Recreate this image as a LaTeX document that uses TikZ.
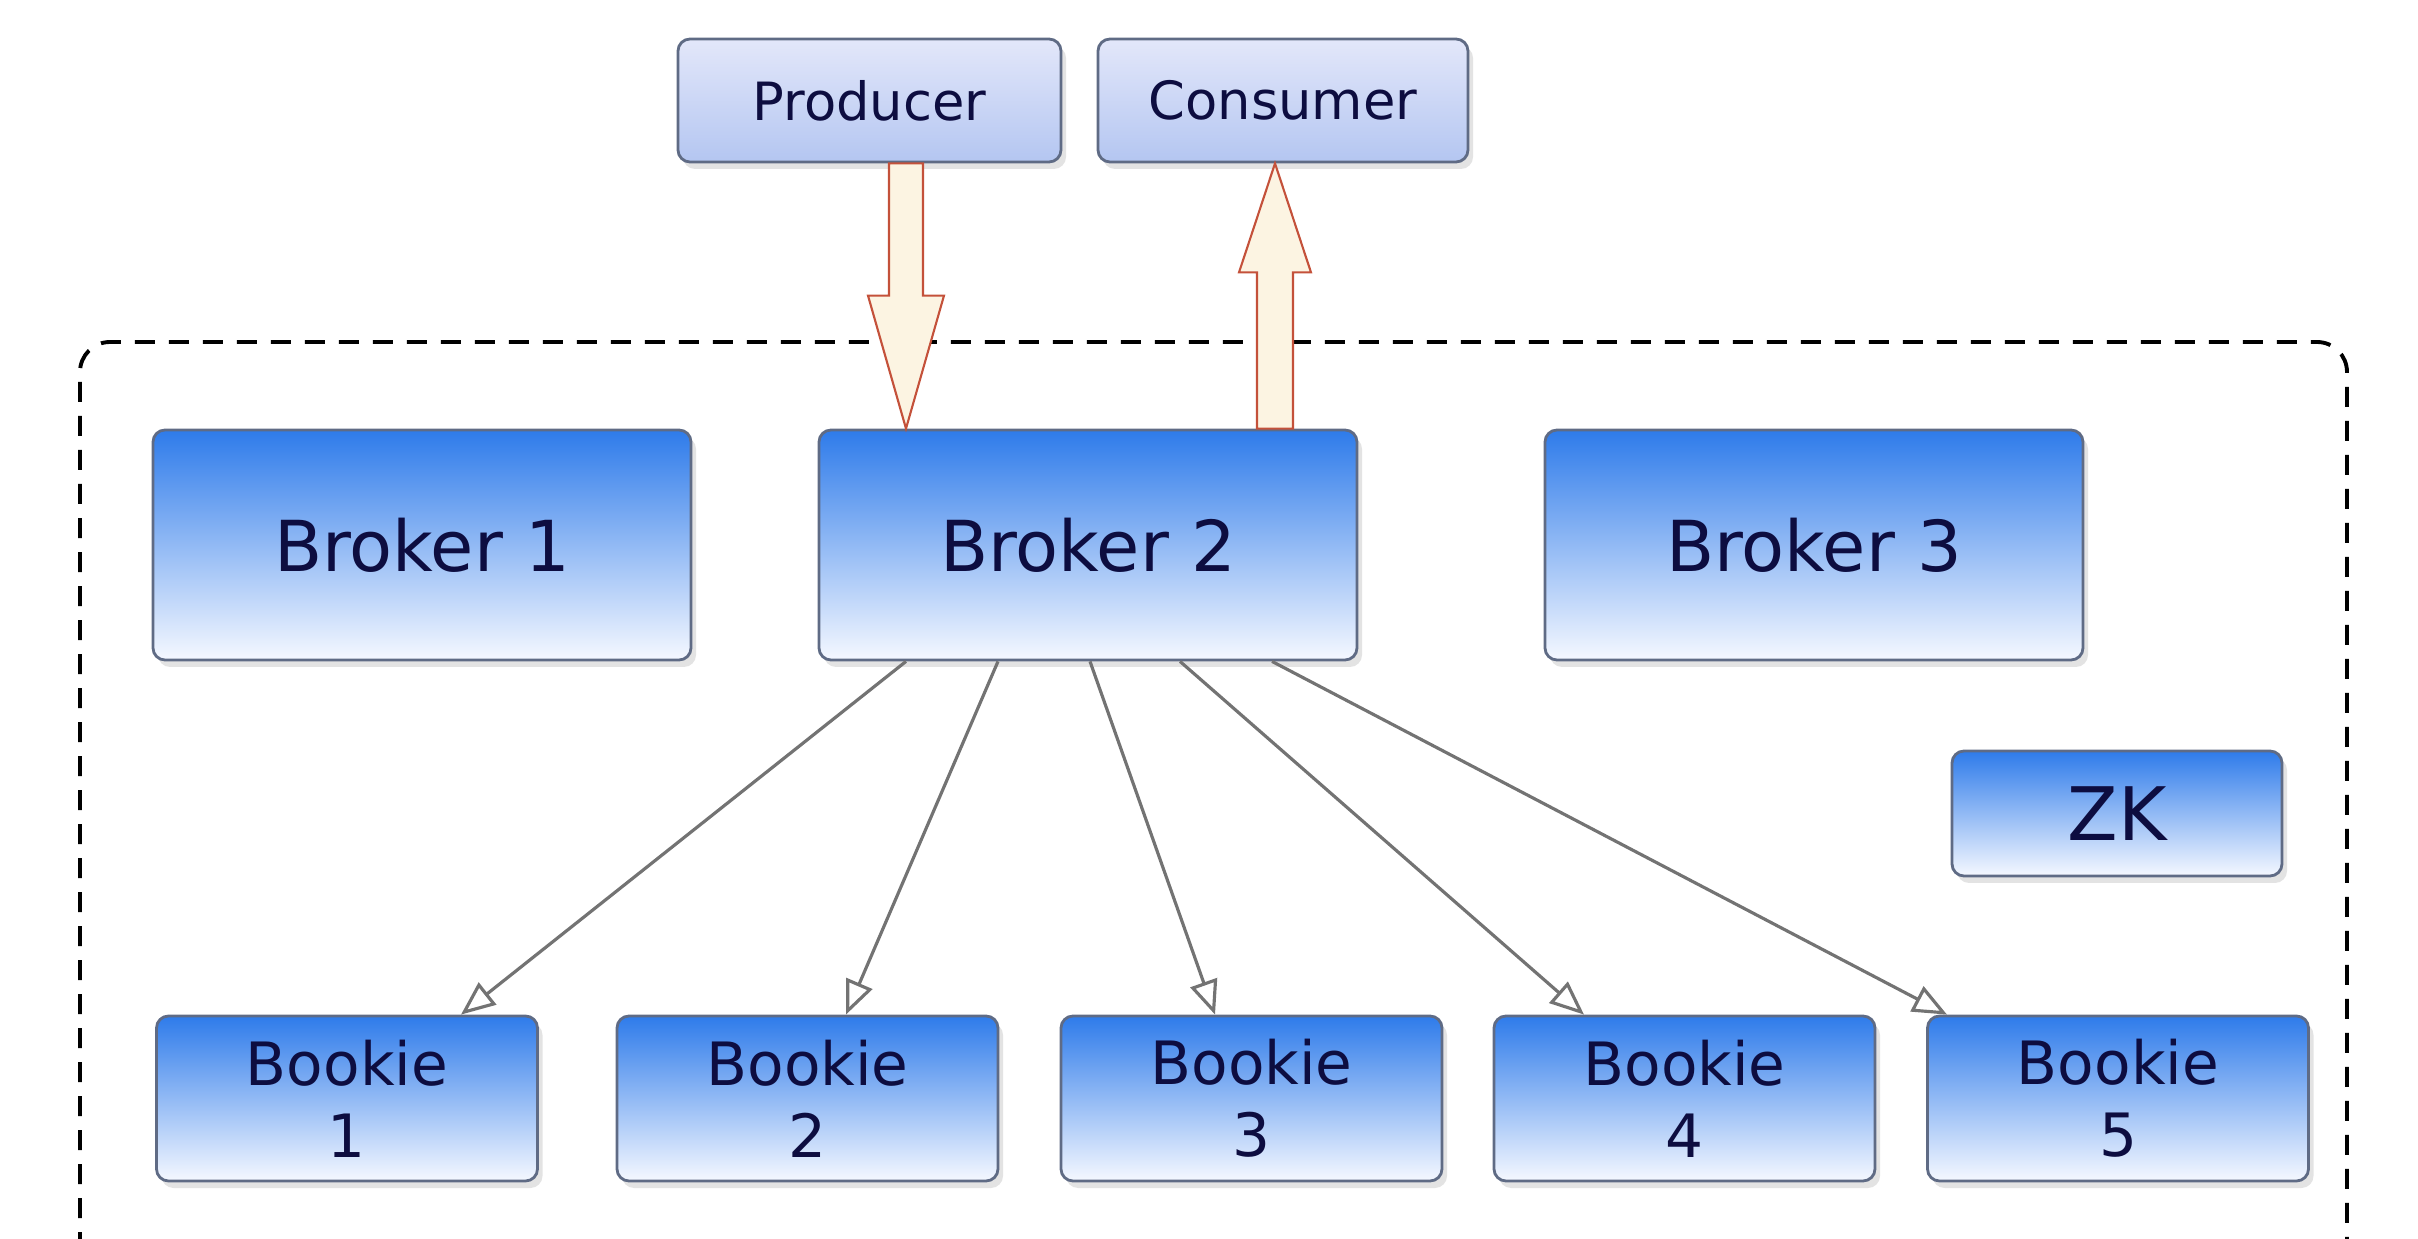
\documentclass[tikz,border=0pt]{standalone}
\usepackage{fontspec}
\setmainfont{DejaVu Sans}
\usetikzlibrary{arrows.meta,shadows}

\definecolor{boxtop}{HTML}{2E7BEA}
\definecolor{boxmid}{HTML}{92B5F3}
\definecolor{boxbot}{HTML}{F5F8FF}
\definecolor{clitop}{HTML}{E3E7FA}
\definecolor{clibot}{HTML}{B4C6F1}
\definecolor{boxedge}{HTML}{5F6B85}
\definecolor{navy}{HTML}{0D0D40}
\definecolor{bigfill}{HTML}{FCF4E2}
\definecolor{bigedge}{HTML}{C4513A}
\definecolor{linkgray}{HTML}{737373}

\tikzset{
  softshadow/.style={drop shadow={shadow xshift=0.5mm, shadow yshift=-0.7mm, opacity=0.18, fill=black!60}},
  server/.style={draw=boxedge, line width=0.8pt, rounded corners=1.2mm, text=navy,
    top color=boxtop, middle color=boxmid, bottom color=boxbot, softshadow,
    align=center, inner sep=0pt},
  broker/.style={server, minimum width=5.38cm, minimum height=2.3cm, font=\fontsize{20}{24}\selectfont},
  bookie/.style={server, minimum width=3.81cm, minimum height=1.65cm, font=\fontsize{17}{20.5}\selectfont},
  client/.style={draw=boxedge, line width=0.8pt, rounded corners=1.2mm, text=navy,
    top color=clitop, bottom color=clibot, softshadow,
    minimum height=1.23cm, inner sep=0pt, font=\fontsize{15}{18}\selectfont},
  bigarrow/.style={draw=bigedge, fill=bigfill, line width=0.6pt, line join=miter},
  link/.style={draw=linkgray, line width=0.9pt, -{Triangle[open, length=3.4mm, width=2.8mm]}},
  cluster/.style={draw=black, line width=1.1pt, dash pattern=on 2mm off 1.4mm, rounded corners=3mm}
}

\begin{document}
\begin{tikzpicture}

\useasboundingbox (0,0) rectangle (24.18,-12.39);

% the cluster boundary (runs off the bottom)
\draw[cluster] (0.80,-13.2) |- (23.47,-3.42) -- (23.47,-13.2);

% clients
\node[client, minimum width=3.83cm] (prod) at (8.695,-1.005) {Producer};
\node[client, minimum width=3.70cm] (cons) at (12.83,-1.005) {Consumer};

% brokers
\node[broker] (b1) at (4.22,-5.45) {Broker 1};
\node[broker] (b2) at (10.88,-5.45) {Broker 2};
\node[broker] (b3) at (18.14,-5.45) {Broker 3};

% zookeeper
\node[server, minimum width=3.30cm, minimum height=1.25cm,
      font=\fontsize{21}{25}\selectfont] (zk) at (21.17,-8.135) {ZK};

% bookies
\foreach \x [count=\n] in {3.47,8.075,12.515,16.845,21.18} {
  \node[bookie] (bk\n) at (\x,-10.985) {Bookie\\\n};
}

% write path: producer -> broker 2
\coordinate (pa) at ([xshift=3.65mm]prod.south);
\coordinate (pb) at (pa |- b2.north);
\draw[bigarrow] ([xshift=-1.7mm]pa) -- ([xshift=-1.7mm,yshift=13.3mm]pb)
  -- ([xshift=-3.8mm,yshift=13.3mm]pb) -- (pb)
  -- ([xshift=3.8mm,yshift=13.3mm]pb) -- ([xshift=1.7mm,yshift=13.3mm]pb)
  -- ([xshift=1.7mm]pa) -- cycle;

% read path: broker 2 -> consumer
\coordinate (ca) at ([xshift=-0.8mm]cons.south);
\coordinate (cb) at (ca |- b2.north);
\draw[bigarrow] ([xshift=-1.8mm]cb) -- ([xshift=-1.8mm,yshift=-10.9mm]ca)
  -- ([xshift=-3.6mm,yshift=-10.9mm]ca) -- (ca)
  -- ([xshift=3.6mm,yshift=-10.9mm]ca) -- ([xshift=1.8mm,yshift=-10.9mm]ca)
  -- ([xshift=1.8mm]cb) -- cycle;

% broker 2 writes to every bookie
\foreach \n/\dx/\tx in {1/-1.82/1.14, 2/-0.90/0.385, 3/0.02/-0.365, 4/0.92/-1.005, 5/1.84/-1.71} {
  \draw[link] ([xshift=\dx cm]b2.south) -- ([xshift=\tx cm]bk\n.north);
}

\end{tikzpicture}
\end{document}
